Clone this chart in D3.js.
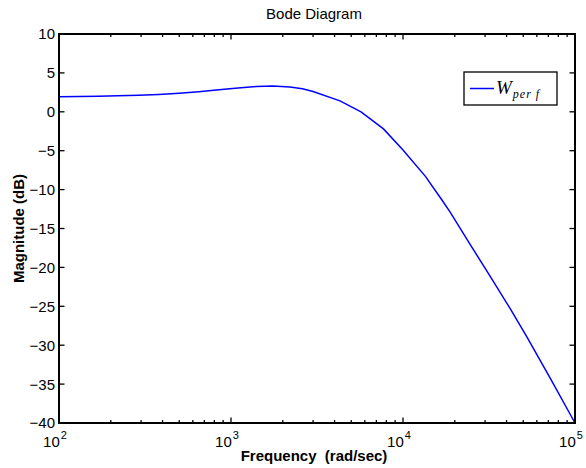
<!DOCTYPE html>
<html lang="en">
<head>
<meta charset="utf-8">
<title>Bode Diagram</title>
<script src="https://cdn.jsdelivr.net/npm/d3@7"></script>
<style>
  body { margin: 0; background: #fff; }
  svg text { font-family: "Liberation Sans", Arial, Helvetica, sans-serif; fill: #000; }
  .curve { fill: none; stroke: #0000ff; stroke-width: 1.5px; }
</style>
</head>
<body>
<svg width="586" height="468"></svg>
<script>
// frequency samples (rad/sec) and magnitude (dB)
var freqs = [100, 130, 170, 220, 290, 380, 500, 650, 850, 1100, 1400, 1750, 2200, 2600, 3000,
             4300, 5700, 7700, 10000, 13500, 16800, 18800, 24500, 32000, 42000, 52400, 72000, 100000];
var magDb = [1.95, 1.97, 2.0, 2.05, 2.12, 2.22, 2.38, 2.58, 2.82, 3.05, 3.25, 3.33, 3.2, 2.95, 2.6,
             1.4, 0.0, -2.2, -4.9, -8.3, -11.3, -12.9, -17.0, -21.1, -25.3, -28.9, -34.3, -40.0];

var xDecades = [2, 3, 4, 5];
var yTicks = [10, 5, 0, -5, -10, -15, -20, -25, -30, -35, -40];
var seriesName = "W";
var seriesSub = "per f";

var svg = d3.select("svg"),
    margin = {top: 34, right: 11, bottom: 45, left: 59},
    width = +svg.attr("width") - margin.left - margin.right,
    height = +svg.attr("height") - margin.top - margin.bottom,
    g = svg.append("g").attr("transform", "translate(" + margin.left + "," + margin.top + ")");

var x = d3.scaleLog().domain([100, 100000]).range([0, width]),
    y = d3.scaleLinear().domain([-40, 10]).range([height, 0]);

var data = freqs.map(function(f, i) { return {f: f, m: magDb[i]}; });

// minor ticks for the log axis
var minor = [];
xDecades.slice(0, -1).forEach(function(e) {
  for (var k = 2; k <= 9; k++) minor.push(k * Math.pow(10, e));
});
var major = xDecades.map(function(e) { return Math.pow(10, e); });

// curve
var line = d3.line()
    .x(function(d) { return x(d.f); })
    .y(function(d) { return y(d.m); });

g.append("path")
    .datum(data)
    .attr("class", "curve")
    .attr("d", line);

// ticks pointing inward on all four sides
function tickLines(vals, len, horiz) {
  vals.forEach(function(v) {
    if (horiz) {
      var px = x(v);
      g.append("line").attr("x1", px).attr("x2", px).attr("y1", height).attr("y2", height - len)
        .attr("stroke", "#000").attr("stroke-width", 1.3);
      g.append("line").attr("x1", px).attr("x2", px).attr("y1", 0).attr("y2", len)
        .attr("stroke", "#000").attr("stroke-width", 1.3);
    } else {
      var py = y(v);
      g.append("line").attr("x1", 0).attr("x2", len).attr("y1", py).attr("y2", py)
        .attr("stroke", "#000").attr("stroke-width", 1.3);
      g.append("line").attr("x1", width).attr("x2", width - len).attr("y1", py).attr("y2", py)
        .attr("stroke", "#000").attr("stroke-width", 1.3);
    }
  });
}
tickLines(minor, 3, true);
tickLines(major, 5.5, true);
tickLines(yTicks, 5.5, false);

// box
g.append("rect")
    .attr("width", width)
    .attr("height", height)
    .attr("fill", "none")
    .attr("stroke", "#000")
    .attr("stroke-width", 2);

// y tick labels
g.selectAll(".ylab")
  .data(yTicks)
  .enter().append("text")
    .attr("class", "ylab")
    .attr("x", -4)
    .attr("y", function(d) { return y(d); })
    .attr("dy", "0.36em")
    .attr("text-anchor", "end")
    .style("font-size", "15px")
    .text(function(d) { return d < 0 ? "\u2212" + Math.abs(d) : d; });

// x tick labels, 10 with exponent
var xl = g.selectAll(".xlab")
  .data(xDecades)
  .enter().append("text")
    .attr("class", "xlab")
    .attr("x", function(d) { return x(Math.pow(10, d)) - 4; })
    .attr("y", height + 24)
    .attr("text-anchor", "middle")
    .style("font-size", "15px");
xl.append("tspan").text("10");
xl.append("tspan")
    .attr("dx", 1)
    .attr("dy", -8)
    .style("font-size", "11px")
    .text(function(d) { return d; });

// title and axis labels
svg.append("text")
    .attr("x", margin.left + width / 2 - 3)
    .attr("y", 19)
    .attr("text-anchor", "middle")
    .style("font-size", "15px")
    .text("Bode Diagram");

svg.append("text")
    .attr("x", margin.left + width / 2 - 3)
    .attr("y", 461)
    .attr("text-anchor", "middle")
    .style("font-size", "15px")
    .style("font-weight", "bold")
    .attr("xml:space", "preserve")
    .text("Frequency  (rad/sec)");

svg.append("text")
    .attr("transform", "translate(24," + (margin.top + height / 2) + ") rotate(-90)")
    .attr("text-anchor", "middle")
    .style("font-size", "15px")
    .style("font-weight", "bold")
    .text("Magnitude (dB)");

// legend
var lg = svg.append("g").attr("transform", "translate(464,72)");
lg.append("rect")
    .attr("width", 93)
    .attr("height", 33)
    .attr("fill", "#fff")
    .attr("stroke", "#000")
    .attr("stroke-width", 1.3);
lg.append("line")
    .attr("x1", 6).attr("x2", 30)
    .attr("y1", 16.5).attr("y2", 16.5)
    .attr("stroke", "#0000ff")
    .attr("stroke-width", 1.5);
var lt = lg.append("text")
    .attr("x", 32)
    .attr("y", 22)
    .style("font-family", "'Liberation Serif', 'Times New Roman', serif")
    .style("font-style", "italic")
    .style("font-size", "19px");
lt.append("tspan").text(seriesName);
lt.append("tspan")
    .attr("dx", 1)
    .attr("dy", 4)
    .attr("xml:space", "preserve")
    .style("font-size", "12px")
    .style("letter-spacing", "1px")
    .text(seriesSub);
</script>
</body>
</html>
